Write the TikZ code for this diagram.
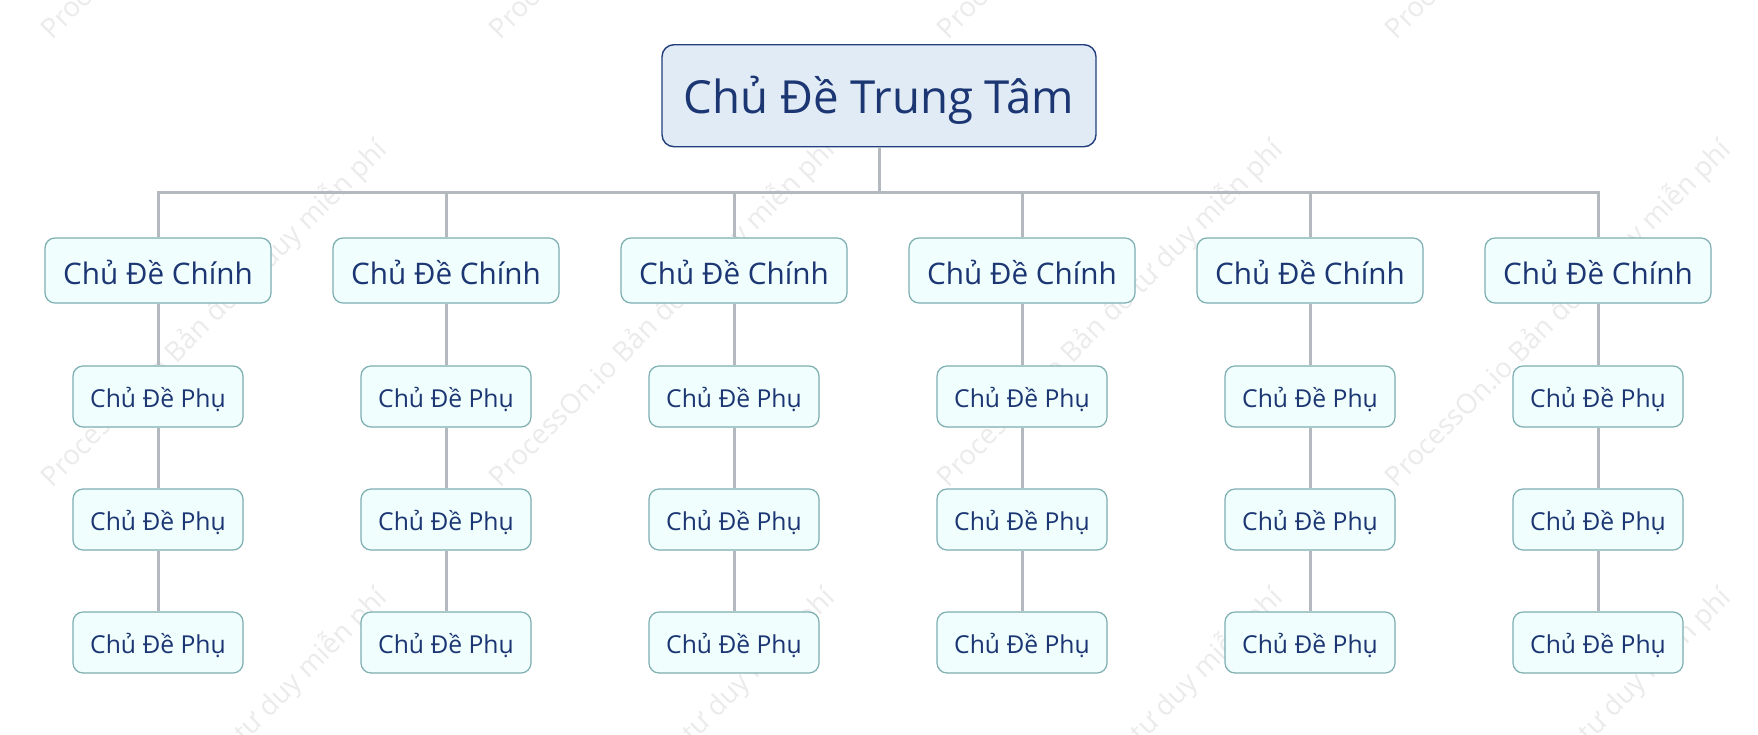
\documentclass[tikz,border=0pt]{standalone}
\usepackage{fontspec}
\setmainfont{Open Sans}
\begin{document}
\begin{tikzpicture}[x=1pt,y=-1pt,
  txt/.style={text=textblue},
  central/.style={txt,draw=centralborder,fill=centralfill,line width=1.4pt,rounded corners=12pt,
    minimum width=434pt,minimum height=102pt,inner sep=0pt,text height=34.6pt,text depth=0pt,
    font=\fontsize{45.6}{52}\selectfont},
  mainbox/.style={txt,draw=boxborder,fill=boxfill,line width=1.2pt,rounded corners=10pt,
    minimum width=226pt,minimum height=65pt,inner sep=0pt,text height=27pt,text depth=0pt,
    font=\fontsize{29.7}{34}\selectfont},
  subbox/.style={txt,draw=boxborder,fill=boxfill,line width=1.2pt,rounded corners=10pt,
    minimum width=170pt,minimum height=61pt,inner sep=0pt,text height=21pt,text depth=0pt,
    font=\fontsize{24.7}{29}\selectfont},
  link/.style={draw=linkgray,line width=3pt},
  wmark/.style={text=wmgray,font=\fontsize{27.5}{32}\selectfont,anchor=south west,rotate=45,inner sep=0pt}
]
\definecolor{textblue}{HTML}{1B3672}
\definecolor{centralborder}{HTML}{213E7C}
\definecolor{centralfill}{HTML}{E1EBF5}
\definecolor{boxborder}{HTML}{7DAEB0}
\definecolor{boxfill}{HTML}{F0FEFE}
\definecolor{linkgray}{HTML}{B4B9C0}
\definecolor{wmgray}{HTML}{EBEBEB}
\useasboundingbox[fill=white] (0,0) rectangle (1758,734);
% watermarks
\foreach \i in {0,1,2,3}{
  \foreach \j in {0,1,2}{
    \node[wmark] (wm\i\j) at ({57+448*\i},{45+448*\j}) {ProcessOn.io Bản đồ tư duy miễn phí};
  }
}
\node[central] (c) at (879,95.7) {Chủ Đề Trung Tâm};
\coordinate (j) at (879,192.7);
\draw[link] (c.south) -- (j);
\foreach \k/\x in {1/158,2/446,3/734,4/1022,5/1310,6/1598}{
  \node[mainbox] (m\k) at (\x,270.5) {Chủ Đề Chính};
  \node[subbox] (s\k a) at (\x,396.5) {Chủ Đề Phụ};
  \node[subbox] (s\k b) at (\x,519.5) {Chủ Đề Phụ};
  \node[subbox] (s\k c) at (\x,642.5) {Chủ Đề Phụ};
  \draw[link] (j) -| (m\k.north);
  \draw[link] (m\k.south) -- (s\k a.north);
  \draw[link] (s\k a.south) -- (s\k b.north);
  \draw[link] (s\k b.south) -- (s\k c.north);
}
\end{tikzpicture}
\end{document}
